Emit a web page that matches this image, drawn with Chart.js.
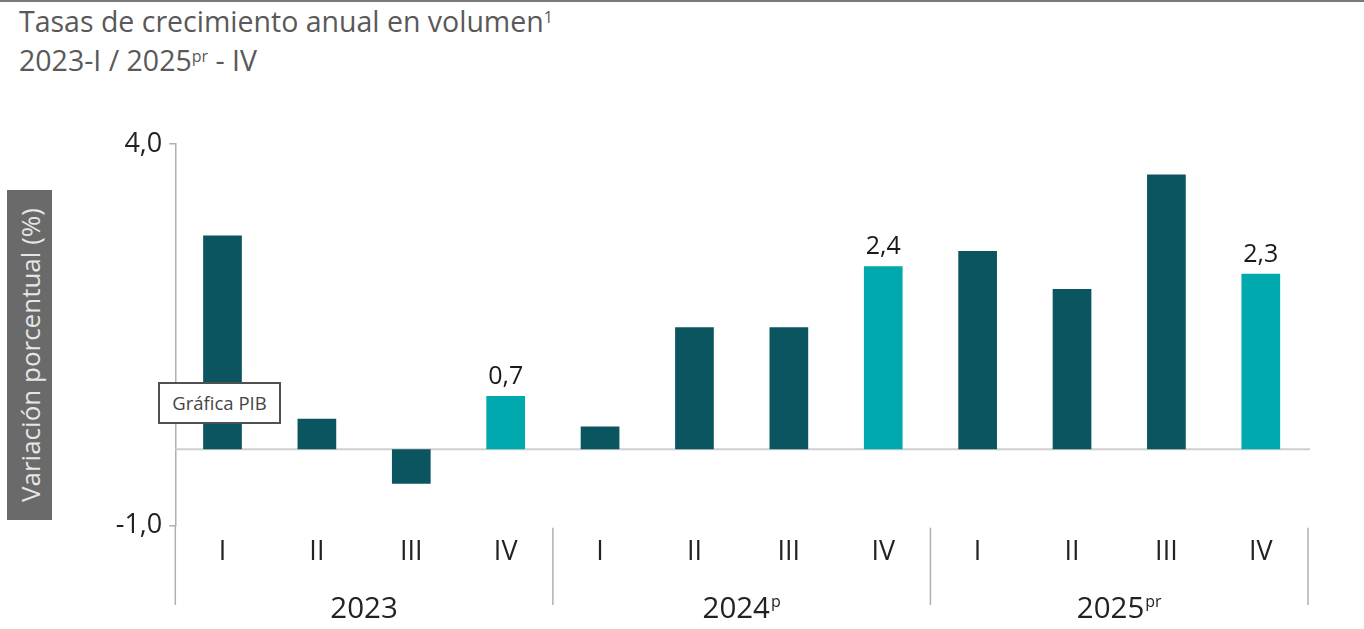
<!DOCTYPE html>
<html>
<head>
<meta charset="utf-8">
<script src="https://cdn.jsdelivr.net/npm/chart.js@4.4.1/dist/chart.umd.min.js"></script>
<style>
	html, body { margin: 0; padding: 0; background: #fff; }
	body { width: 1364px; height: 629px; position: relative; overflow: hidden; font-family: "Open Sans", sans-serif; }
	#topline { position: absolute; left: 0; top: 0; width: 1364px; height: 2px; background: #7a7a7a; }
	#title { position: absolute; left: 19px; top: 2px; color: #595959; font-size: 28.5px; line-height: 39px; }
	#title sup { font-size: 16px; vertical-align: top; position: relative; top: -4px; }
	#ylab { position: absolute; left: 7px; top: 190px; width: 45px; height: 330px; background: #6a6a6a; }
	#ylab span { position: absolute; left: 50%; top: 50%; transform: translate(-50%, -50%) rotate(-90deg); white-space: nowrap; color: #e6e6e6; font-size: 26px; }
	#tip { position: absolute; left: 158px; top: 382px; width: 119px; height: 38px; background: #fff; border: 2px solid #505050; color: #444; font-size: 18.5px; line-height: 38px; text-align: center; z-index: 2; }
	#wrap { position: absolute; left: 0; top: 0; width: 1364px; height: 629px; }
</style>
</head>
<body>
<div id="topline"></div>
<div id="title">Tasas de crecimiento anual en volumen<sup>1</sup><br>2023-I / 2025<sup>pr</sup> - IV</div>
<div id="ylab"><span>Variación porcentual (%)</span></div>
<div id="tip">Gráfica PIB</div>
<div id="wrap"><canvas id="gdpChart" width="1364" height="629"></canvas></div>
<script>
	var quarters = ["I", "II", "III", "IV", "I", "II", "III", "IV", "I", "II", "III", "IV"],
		years    = ["2023", "2024", "2025"],
		yearSup  = ["", "p", "pr"],
		values   = [2.8, 0.4, -0.45, 0.7, 0.3, 1.6, 1.6, 2.4, 2.6, 2.1, 3.6, 2.3],
		labelled = [false, false, false, true, false, false, false, true, false, false, false, true],
		yTicks   = [-1, 4];

	var DARK  = "#0b5560",
		LIGHT = "#00a9ae";

	function fmt(v) {
		return v.toFixed(1).replace(".", ",");
	}

	const extras = {
		id: "extras",
		beforeDatasetsDraw(chart) {
			let ctx = chart.ctx, a = chart.chartArea, y = chart.scales.y;
			let y0 = y.getPixelForValue(0);
			ctx.save();
			ctx.strokeStyle = "#cfcfcf";
			ctx.lineWidth = 2;
			ctx.beginPath();
			ctx.moveTo(a.left, y0);
			ctx.lineTo(a.right + 2, y0);
			ctx.stroke();
			ctx.restore();
		},
		afterDraw(chart) {
			let ctx = chart.ctx, a = chart.chartArea, x = chart.scales.x;
			ctx.save();
			// left axis continued down through the labels
			ctx.strokeStyle = "#b0b0b0";
			ctx.lineWidth = 1.5;
			ctx.beginPath();
			ctx.moveTo(a.left, a.bottom);
			ctx.lineTo(a.left, 605);
			ctx.stroke();
			// group separators + year labels
			let step = x.getPixelForValue(1) - x.getPixelForValue(0);
			for (let g=0; g<years.length; g++) {
				let first = x.getPixelForValue(g*4),
					last  = x.getPixelForValue(g*4+3),
					edge  = last + step/2;
				ctx.beginPath();
				ctx.moveTo(edge, a.bottom + 2);
				ctx.lineTo(edge, 605);
				ctx.stroke();

				let mid = (first + last) / 2;
				ctx.font = "29.5px 'Open Sans'";
				let w1 = ctx.measureText(years[g]).width;
				ctx.font = "16px 'Open Sans'";
				let w2 = yearSup[g] ? ctx.measureText(yearSup[g]).width + 1 : 0;
				let sx = mid - (w1 + w2) / 2;
				ctx.fillStyle = "#222";
				ctx.textBaseline = "alphabetic";
				ctx.textAlign = "left";
				ctx.font = "29.5px 'Open Sans'";
				ctx.fillText(years[g], sx, 618);
				if (yearSup[g]) {
					ctx.font = "16px 'Open Sans'";
					ctx.fillText(yearSup[g], sx + w1 + 1, 607);
				}
			}
			// value labels
			let meta = chart.getDatasetMeta(0);
			ctx.font = "25px 'Open Sans'";
			ctx.fillStyle = "#1a1a1a";
			ctx.textAlign = "center";
			ctx.textBaseline = "alphabetic";
			meta.data.forEach((bar, i) => {
				if (labelled[i])
					ctx.fillText(fmt(values[i]), bar.x, bar.y - 12);
			});
			ctx.restore();
		}
	};

	window.onload = () => {
		const ctxGdp = document.getElementById("gdpChart").getContext("2d");
		const gdpChart = new Chart(ctxGdp,
			{
				type: "bar",
				data: {
					labels: quarters,
					datasets: [{
						label: "PIB",
						data: values,
						backgroundColor: labelled.map(l => l ? LIGHT : DARK),
						borderWidth: 0,
						barPercentage: 0.82,
						categoryPercentage: 0.5
					}]
				},
				options: {
					responsive: false,
					animation: false,
					layout: {
						padding: { left: 0, right: 56, top: 144, bottom: 0 }
					},
					plugins: {
						legend: { display: false },
						tooltip: { enabled: false }
					},
					scales: {
						x: {
							grid: { display: false, drawTicks: false },
							border: { display: false },
							ticks: {
								color: "#222",
								padding: 10,
								font: { family: "'Open Sans'", size: 27 },
								maxRotation: 0,
								autoSkip: false
							},
							afterFit: (s) => { s.height = 103.3; }
						},
						y: {
							min: -1,
							max: 4,
							afterBuildTicks: (s) => { s.ticks = yTicks.map(v => ({ value: v })); },
							grid: { drawOnChartArea: false, tickLength: 6, color: "#b0b0b0", lineWidth: 1.5 },
							border: { display: true, color: "#b0b0b0", width: 1.5 },
							ticks: {
								color: "#222",
								padding: 7,
								font: { family: "'Open Sans'", size: 27 },
								callback: (v) => fmt(v)
							},
							afterFit: (s) => { s.width = 175.3; }
						}
					}
				},
				plugins: [extras]
			}
		);
	};
</script>
</body>
</html>
